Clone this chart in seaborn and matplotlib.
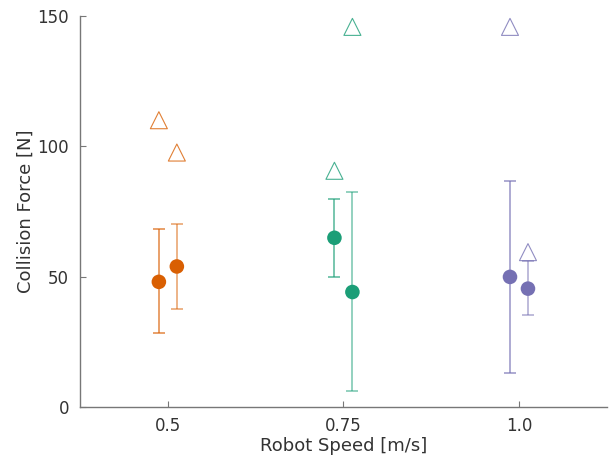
import numpy as np
import matplotlib
matplotlib.use("Agg")
import matplotlib.pyplot as plt
import pandas as pd
import seaborn as sns

speeds = [0.5, 0.75, 1.0]
tick_labels = ["0.5", "0.75", "1.0"]
colors = ["#d95f02", "#1b9e77", "#7570b3"]

# two conditions per speed: (left, right)
mean_left = [48.0, 64.9, 49.9]
low_left = [28.2, 50.0, 13.0]
high_left = [68.1, 79.9, 86.6]
peak_left = [110.0, 90.6, 145.8]

mean_right = [53.9, 44.1, 45.4]
low_right = [37.4, 6.0, 35.1]
high_right = [70.2, 82.3, 56.0]
peak_right = [97.6, 145.8, 59.4]

rows = []
for i, s in enumerate(speeds):
    rows.append(dict(speed=s, side=-1, mean=mean_left[i], low=low_left[i],
                     high=high_left[i], peak=peak_left[i], color=colors[i], alpha=0.75))
    rows.append(dict(speed=s, side=1, mean=mean_right[i], low=low_right[i],
                     high=high_right[i], peak=peak_right[i], color=colors[i], alpha=0.6))
df = pd.DataFrame(rows)
df["x"] = df["speed"] + df["side"] * 0.0128

sns.set_style("white", {"xtick.bottom": True, "ytick.left": True})
plt.rcParams['font.family'] = ['DejaVu Sans']

fig = plt.figure(figsize=(6.16, 4.59), dpi=100)
ax = fig.add_axes([0.13, 0.1133, 0.855, 0.852])

for _, r in df.iterrows():
    ax.errorbar(r["x"], r["mean"], yerr=[[r["mean"] - r["low"]], [r["high"] - r["mean"]]],
                fmt="none", ecolor=r["color"], alpha=r["alpha"], elinewidth=1.1,
                capsize=4, capthick=1.1, zorder=2)

sns.scatterplot(data=df, x="x", y="mean", hue="speed", palette=colors,
                s=110, edgecolor="none", legend=False, ax=ax, zorder=3)

for _, r in df.iterrows():
    ax.scatter(r["x"], r["peak"], marker="^", s=150, facecolors="none",
               edgecolors=r["color"], linewidths=0.8, alpha=0.8, zorder=3)

ax.set_xlim(0.375, 1.125)
ax.set_ylim(0, 150)
ax.set_xticks(speeds)
ax.set_xticklabels(tick_labels)
ax.set_yticks([0, 50, 100, 150])
ax.set_xlabel("Robot Speed [m/s]", fontsize=13, color="#333333", labelpad=2)
ax.set_ylabel("Collision Force [N]", fontsize=13, color="#333333", labelpad=2)
ax.tick_params(direction="in", length=4, width=0.8, color="#777777",
               labelsize=12, labelcolor="#333333")
ax.tick_params(axis="x", pad=7)
ax.tick_params(axis="y", pad=8)
sns.despine(ax=ax)
for sp in ["left", "bottom"]:
    ax.spines[sp].set_color("#777777")
    ax.spines[sp].set_linewidth(1.0)

fig.savefig("out.png", dpi=100)
